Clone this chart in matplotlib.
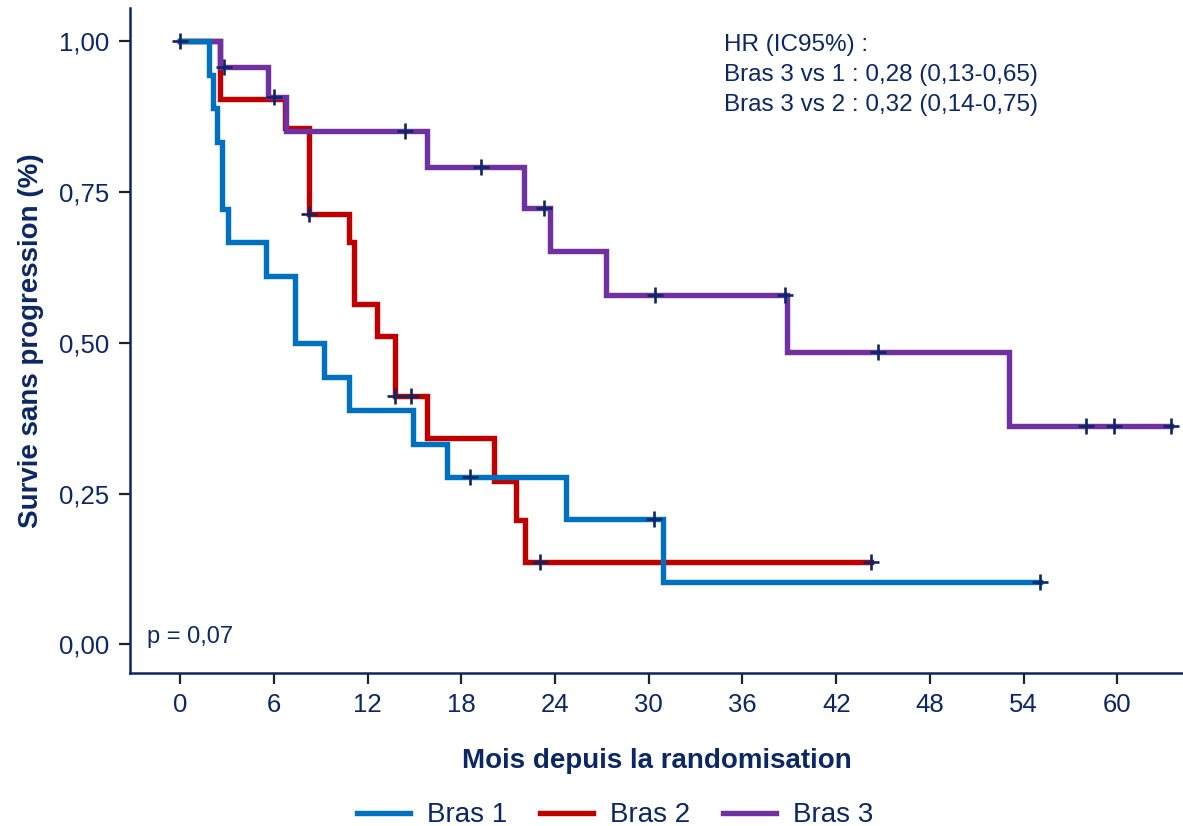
import matplotlib.pyplot as plt
import numpy as np

plt.rcParams['font.family'] = ['Liberation Sans', 'DejaVu Sans']

navy = '#0b2766'

# Kaplan-Meier steps (months, survival)
t1 = [0, 1.86, 2.13, 2.39, 2.71, 3.05, 5.5, 7.36, 9.22, 10.84, 14.94, 17.07, 24.7, 30.9, 55.06]
s1 = [1.0, 0.944, 0.889, 0.833, 0.722, 0.667, 0.611, 0.5, 0.444, 0.389, 0.333, 0.278, 0.208, 0.104, 0.104]
c1 = [0, 18.57, 30.35, 55.06]

t2 = [0, 2.56, 6.72, 8.26, 10.84, 11.14, 12.59, 13.76, 15.79, 20.1, 21.5, 22.09, 44.2]
s2 = [1.0, 0.905, 0.857, 0.714, 0.667, 0.564, 0.512, 0.411, 0.342, 0.270, 0.206, 0.137, 0.137]
c2 = [8.26, 13.76, 14.79, 23.05, 44.2]

t3 = [0, 2.56, 5.61, 6.76, 15.79, 22.02, 23.69, 27.25, 38.84, 53.03, 63.4]
s3 = [1.0, 0.957, 0.907, 0.851, 0.792, 0.724, 0.653, 0.58, 0.485, 0.362, 0.362]
c3 = [2.84, 5.98, 14.4, 19.27, 23.3, 30.41, 38.73, 44.7, 58.0, 59.8, 63.4]

labels = ['Bras 1', 'Bras 2', 'Bras 3']
colors = ['#0070c0', '#c00000', '#7030a0']
xticks = [0, 6, 12, 18, 24, 30, 36, 42, 48, 54, 60]
yticks = [0, 0.25, 0.5, 0.75, 1.0]
yticklabels = ['0,00', '0,25', '0,50', '0,75', '1,00']

fig = plt.figure(figsize=(11.83, 8.26), dpi=100)
ax = fig.add_axes([0.11, 0.185, 0.89, 0.805])

arms = [(t1, s1, c1), (t2, s2, c2), (t3, s3, c3)]
zorders = [4, 2, 3]
for (t, s, c), lab, col, z in zip(arms, labels, colors, zorders):
    ax.plot(t, s, drawstyle='steps-post', color=col, lw=3.9, label=lab,
            zorder=z, solid_joinstyle='miter')
    idx = np.searchsorted(t, c, side='right') - 1
    ax.plot(c, np.array(s)[idx], ls='none', marker='+', ms=11, mew=1.9,
            color=navy, zorder=6)

ax.set_xlim(-3.2, 64.2)
ax.set_ylim(-0.048, 1.055)
ax.set_xticks(xticks)
ax.set_yticks(yticks)
ax.set_yticklabels(yticklabels)

for side in ['top', 'right']:
    ax.spines[side].set_visible(False)
for side in ['left', 'bottom']:
    ax.spines[side].set_color(navy)
    ax.spines[side].set_linewidth(1.8)
ax.tick_params(axis='both', colors='#222222', labelcolor=navy, labelsize=18.5,
               length=8, width=1.6, pad=7)
ax.tick_params(axis='x', pad=6.5)

ax.set_xlabel('Mois depuis la randomisation', fontsize=20, fontweight='bold',
              color=navy, labelpad=22)
ax.set_ylabel('Survie sans progression (%)', fontsize=20, fontweight='bold',
              color=navy, labelpad=11)

ax.text(0.016, 0.045, 'p = 0,07', transform=ax.transAxes, fontsize=17, color=navy)
ax.text(0.564, 0.962, 'HR (IC95%) :\nBras 3 vs 1 : 0,28 (0,13-0,65)\nBras 3 vs 2 : 0,32 (0,14-0,75)',
        transform=ax.transAxes, fontsize=17.5, color=navy, va='top', linespacing=1.48)

leg = fig.legend(loc='lower center', bbox_to_anchor=(0.52, -0.033), ncol=3,
                 frameon=False, fontsize=20, handlelength=1.9, columnspacing=1.2,
                 handletextpad=0.6)
for txt in leg.get_texts():
    txt.set_color(navy)

fig.savefig('out.png', dpi=100)
